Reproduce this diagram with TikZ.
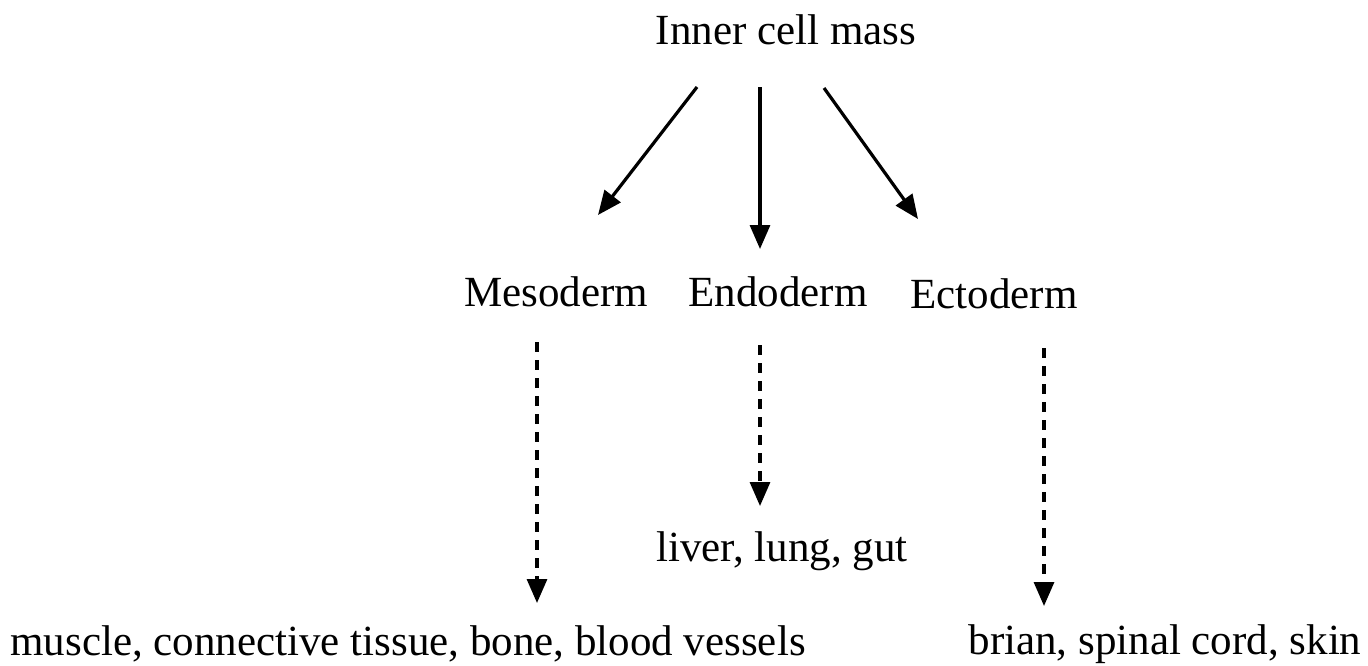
\documentclass[tikz,border=0pt]{standalone}
\usepackage{fontspec}
\setmainfont{Liberation Serif}
\usetikzlibrary{arrows.meta}
\begin{document}
\begin{tikzpicture}[x=1pt,y=-1pt,
  lbl/.style={anchor=base,inner sep=0pt,font=\fontsize{43}{48}\selectfont},
  solidarrow/.style={line width=3.2pt,-{Triangle[length=24pt,width=20pt]}},
  dasharrow/.style={line width=3.2pt,dash pattern=on 10pt off 8pt,-{Triangle[length=24pt,width=20pt]}}]
\useasboundingbox (0,0) rectangle (1368,665);
\node[lbl] (icm) at (786,44) {Inner cell mass};
\node[lbl] (meso) at (556,306) {Mesoderm};
\node[lbl] (endo) at (778,306) {Endoderm};
\node[lbl] (ecto) at (994,308) {Ectoderm};
\node[lbl] (liver) at (782,561) {liver, lung, gut};
\node[lbl] (muscle) at (408,655) {muscle, connective tissue, bone, blood vessels};
\node[lbl] (brain) at (1165,654) {brian, spinal cord, skin};
\coordinate (s1) at (697,87); \coordinate (e1) at (598,215);
\coordinate (s2) at (760,87); \coordinate (e2) at (760,249);
\coordinate (s3) at (824,88); \coordinate (e3) at (918,219);
\coordinate (d1s) at (537,342); \coordinate (d1e) at (537,603);
\coordinate (d2s) at (760,345); \coordinate (d2e) at (760,506);
\coordinate (d3s) at (1044,348); \coordinate (d3e) at (1044,606);
\draw[solidarrow] (s1) -- (e1);
\draw[solidarrow] (s2) -- (e2);
\draw[solidarrow] (s3) -- (e3);
\draw[dasharrow] (d1s) -- (d1e);
\draw[dasharrow] (d2s) -- (d2e);
\draw[dasharrow] (d3s) -- (d3e);
\end{tikzpicture}
\end{document}
